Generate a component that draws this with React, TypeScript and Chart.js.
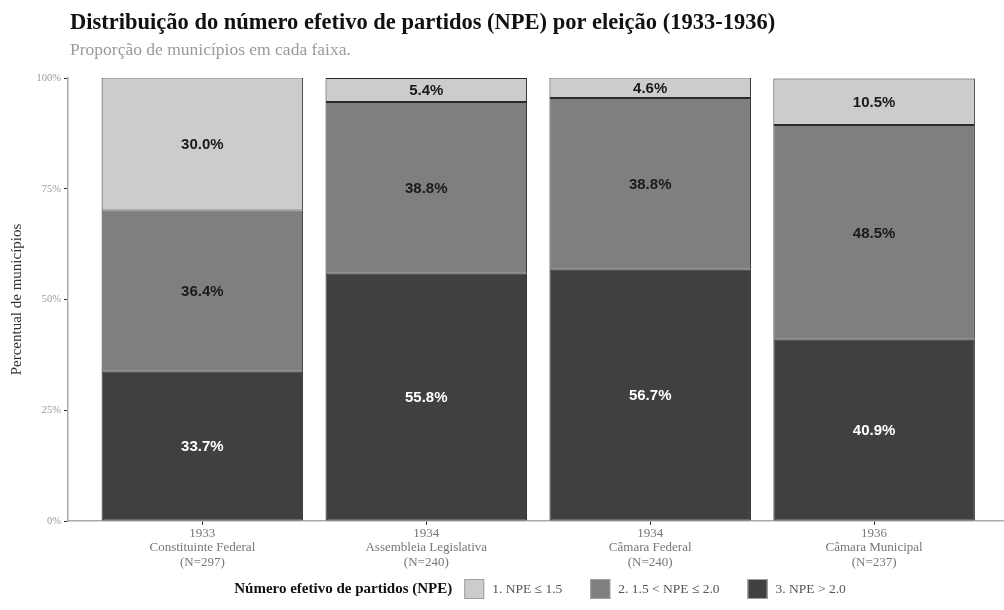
import React, { useEffect, useRef } from "react";
import { Chart, registerables } from "chart.js";

Chart.register(...registerables);

// ---- Data ----
const years = ["1933", "1934", "1934", "1936"];
const elections = ["Constituinte Federal", "Assembleia Legislativa", "Câmara Federal", "Câmara Municipal"];
const sampleSizes = [297, 240, 240, 237];
const seriesLabels = ["1. NPE ≤ 1.5", "2. 1.5 < NPE ≤ 2.0", "3. NPE > 2.0"];
const seriesColors = ["#CCCCCC", "#7F7F7F", "#404040"];
const npeLow = [30.0, 5.4, 4.6, 10.5];
const npeMid = [36.4, 38.8, 38.8, 48.5];
const npeHigh = [33.7, 55.8, 56.7, 40.9];
const yTicks = [0, 25, 50, 75, 100];

const titleText = "Distribuição do número efetivo de partidos (NPE) por eleição (1933-1936)";
const subtitleText = "Proporção de municípios em cada faixa.";
const yTitleText = "Percentual de municípios";
const legendTitleText = "Número efetivo de partidos (NPE)";

const SERIF = "'Liberation Serif', 'DejaVu Serif', serif";
const SANS = "'Liberation Sans', Arial, sans-serif";

const titlePlugin = {
  id: "customTitle",
  afterDraw(chart: any) {
    const ctx = chart.ctx;
    ctx.save();
    ctx.textAlign = "left";
    ctx.textBaseline = "alphabetic";
    ctx.fillStyle = "#111111";
    ctx.font = `bold 22.5px ${SERIF}`;
    ctx.fillText(titleText, 70, 29);
    ctx.fillStyle = "#9a9a9a";
    ctx.font = `17.5px ${SERIF}`;
    ctx.fillText(subtitleText, 70, 55);
    ctx.restore();
  },
};

const valueLabelPlugin = {
  id: "valueLabels",
  afterDatasetsDraw(chart: any) {
    const ctx = chart.ctx;
    ctx.save();
    ctx.font = `bold 15px ${SANS}`;
    ctx.textAlign = "center";
    ctx.textBaseline = "middle";
    chart.data.datasets.forEach((ds: any, di: number) => {
      const meta = chart.getDatasetMeta(di);
      meta.data.forEach((el: any, i: number) => {
        const p = el.getProps(["x", "y", "base"], true);
        const v = ds.data[i].y;
        ctx.fillStyle = ds.labelColor;
        ctx.fillText(v.toFixed(1) + "%", p.x, (p.y + p.base) / 2 + 1);
      });
    });
    ctx.restore();
  },
};

const legendPlugin = {
  id: "customLegend",
  afterDraw(chart: any) {
    const ctx = chart.ctx;
    const cy = 589;
    const box = 20;
    ctx.save();
    ctx.textBaseline = "middle";
    ctx.textAlign = "left";
    ctx.font = `bold 15px ${SERIF}`;
    const titleW = ctx.measureText(legendTitleText).width;
    ctx.font = `13.5px ${SERIF}`;
    const labelWs = seriesLabels.map((l) => ctx.measureText(l).width);
    const gapTitle = 12;
    const gapBoxText = 8;
    const gapItems = 28;
    let total = titleW + gapTitle;
    labelWs.forEach((w, i) => {
      total += box + gapBoxText + w + (i < labelWs.length - 1 ? gapItems : 0);
    });
    const center = 540;
    let x = center - total / 2;
    ctx.fillStyle = "#111111";
    ctx.font = `bold 15px ${SERIF}`;
    ctx.fillText(legendTitleText, x, cy);
    x += titleW + gapTitle;
    seriesLabels.forEach((l, i) => {
      ctx.fillStyle = seriesColors[i];
      ctx.fillRect(x, cy - box / 2, box, box);
      ctx.strokeStyle = "#a0a0a0";
      ctx.lineWidth = 1;
      ctx.strokeRect(x + 0.5, cy - box / 2 + 0.5, box - 1, box - 1);
      x += box + gapBoxText;
      ctx.fillStyle = "#555555";
      ctx.font = `13.5px ${SERIF}`;
      ctx.fillText(l, x, cy);
      x += labelWs[i] + gapItems;
    });
    ctx.restore();
  },
};

function App() {
  const canvasRef = useRef<HTMLCanvasElement | null>(null);

  useEffect(() => {
    if (!canvasRef.current) return;
    const mk = (vals: number[]) => vals.map((v, i) => ({ x: i, y: v }));
    const chart = new Chart(canvasRef.current, {
      type: "bar",
      data: {
        datasets: [
          {
            label: seriesLabels[2],
            data: mk(npeHigh),
            backgroundColor: seriesColors[2],
            labelColor: "#ffffff",
          },
          {
            label: seriesLabels[1],
            data: mk(npeMid),
            backgroundColor: seriesColors[1],
            labelColor: "#1a1a1a",
          },
          {
            label: seriesLabels[0],
            data: mk(npeLow),
            backgroundColor: seriesColors[0],
            labelColor: "#1a1a1a",
          },
        ] as any,
      },
      options: {
        animation: false,
        responsive: false,
        maintainAspectRatio: false,
        datasets: {
          bar: {
            barPercentage: 0.9,
            categoryPercentage: 1.0,
            borderColor: "#2a2a2a",
            borderWidth: 1,
            borderSkipped: false,
          },
        },
        layout: { padding: { top: 78, left: 4, right: 0, bottom: 39 } },
        plugins: {
          legend: { display: false },
          title: { display: false },
          tooltip: { enabled: false },
        },
        scales: {
          x: {
            type: "linear",
            stacked: true,
            offset: false,
            min: -0.6,
            max: 3.58,
            afterBuildTicks: (scale: any) => {
              scale.ticks = years.map((_, i) => ({ value: i }));
            },
            afterFit: (scale: any) => {
              scale.height = 50;
            },
            ticks: {
              autoSkip: false,
              maxRotation: 0,
              padding: 2,
              color: "#777777",
              font: { family: SERIF, size: 13, lineHeight: 1.08 },
              callback: (v: any) => {
                const i = Math.round(Number(v));
                return [years[i], elections[i], `(N=${sampleSizes[i]})`];
              },
            },
            grid: {
              display: true,
              offset: false,
              drawOnChartArea: false,
              drawTicks: true,
              tickLength: 4,
              color: "#333333",
            },
            border: { display: true, color: "#aaaaaa", width: 1.5 },
          },
          y: {
            stacked: true,
            min: 0,
            max: 100,
            afterBuildTicks: (scale: any) => {
              scale.ticks = yTicks.map((v) => ({ value: v }));
            },
            afterFit: (scale: any) => {
              scale.width = 64;
            },
            ticks: {
              padding: 3,
              color: "#9a9a9a",
              font: { family: SERIF, size: 10.5 },
              callback: (v: any) => `${v}%`,
            },
            grid: {
              display: true,
              drawOnChartArea: false,
              drawTicks: true,
              tickLength: 4,
              color: "#333333",
            },
            border: { display: true, color: "#aaaaaa", width: 1.5 },
            title: {
              display: true,
              text: yTitleText,
              color: "#333333",
              font: { family: SERIF, size: 15 },
              padding: { top: 4, bottom: 0 },
            },
          },
        },
      } as any,
      plugins: [titlePlugin, valueLabelPlugin, legendPlugin],
    });
    return () => chart.destroy();
  }, []);

  return (
    <div style={{ position: "fixed", left: 0, top: 0, width: 1004, height: 610, background: "#ffffff" }}>
      <canvas ref={canvasRef} width={1004} height={610} style={{ display: "block" }} />
    </div>
  );
}

export default App;
